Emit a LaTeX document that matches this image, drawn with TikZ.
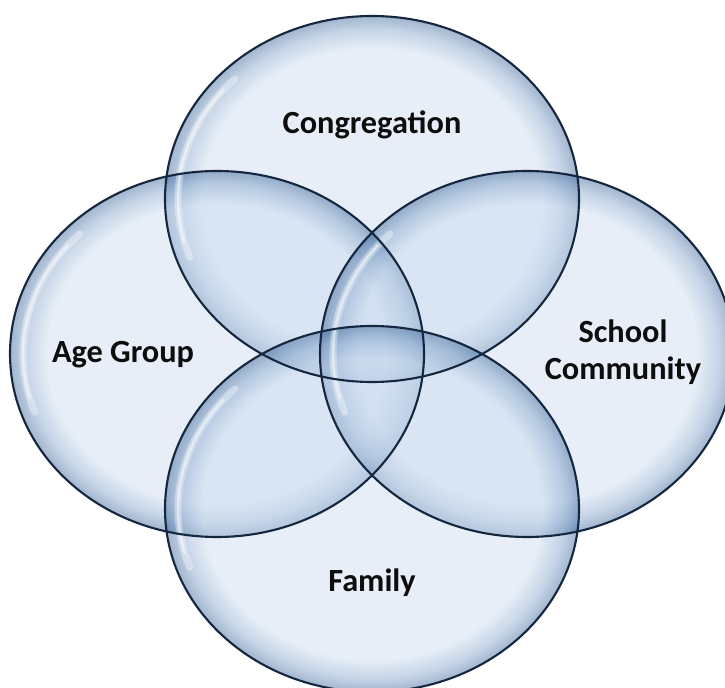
\documentclass[tikz,border=0pt]{standalone}
\usepackage{fontspec}
\setmainfont{Carlito}
\definecolor{bubin}{HTML}{C9DAEE}
\definecolor{bubmid}{HTML}{7E9FC8}
\definecolor{bubedge}{HTML}{2F5C92}
\definecolor{rim}{HTML}{15273F}
\pgfdeclareradialshading{bubble}{\pgfpoint{0bp}{0bp}}{color(0bp)=(bubin); color(20.5bp)=(bubin); color(23.2bp)=(bubmid); color(25bp)=(bubedge); color(50bp)=(bubedge)}
\begin{document}
\begin{tikzpicture}[
    bubble/.style={shading=bubble, fill opacity=0.45},
    rimline/.style={draw=rim, line width=1.2pt},
    gleam/.style={white, opacity=0.35, line width=4pt, line cap=round},
    lbl/.style={font=\fontsize{18.4}{21}\selectfont\bfseries, text=black!95, align=center}]
\useasboundingbox (0,0) rectangle (14.5,13.74);
\clip (0,0) rectangle (14.5,13.74);
% centres of the four sets
\coordinate (top) at (7.44,9.76);
\coordinate (bot) at (7.44,3.56);
\coordinate (lft) at (4.34,6.66);
\coordinate (rgt) at (10.54,6.66);
% fills
\foreach \c in {top,lft,rgt,bot}
  \shade[bubble] (\c) ellipse [x radius=4.14, y radius=3.66];
% soft highlights on the inner left side
\foreach \c in {top,lft,rgt,bot}{
  \draw[gleam] (\c) ++(135:3.88 and 3.4) arc [start angle=135, end angle=200, x radius=3.88, y radius=3.4];
  \draw[gleam, line width=1.4pt, opacity=0.5] (\c) ++(140:3.88 and 3.4) arc [start angle=140, end angle=195, x radius=3.88, y radius=3.4];
}
% outlines
\foreach \c in {top,lft,rgt,bot}
  \draw[rimline] (\c) ellipse [x radius=4.14, y radius=3.66];
% labels
\node[lbl] (congregation) at (7.44,11.24) {Congregation};
\node[lbl] (agegroup) at (2.46,6.64) {Age Group};
\node[lbl] (school) at (12.46,6.7) {School\\Community};
\node[lbl] (family) at (7.44,2.08) {Family};
\end{tikzpicture}
\end{document}
